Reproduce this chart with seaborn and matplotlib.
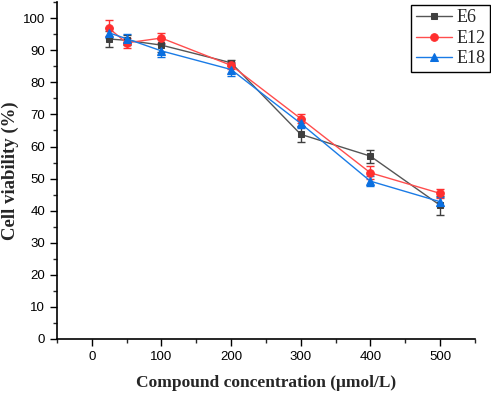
import matplotlib
matplotlib.use("Agg")
import matplotlib.pyplot as plt
import seaborn as sns
import pandas as pd
from matplotlib.ticker import MultipleLocator

conc = [25, 50, 100, 200, 300, 400, 500]
e6 = [93.5, 93.1, 91.6, 86.1, 63.8, 57.0, 41.7]
e6_err = [2.5, 1.5, 2.0, 1.0, 2.5, 2.0, 3.0]
e12 = [96.8, 92.3, 93.8, 85.3, 68.7, 51.8, 45.4]
e12_err = [2.5, 1.5, 1.5, 1.0, 1.5, 2.0, 1.5]
e18 = [95.4, 93.6, 89.8, 84.0, 67.2, 49.2, 42.8]
e18_err = [1.5, 1.5, 2.0, 2.0, 1.5, 1.5, 1.5]
series = ["E6", "E12", "E18"]

df = pd.concat([
    pd.DataFrame({"conc": conc, "val": v, "err": e, "group": g})
    for g, v, e in zip(series, [e6, e12, e18], [e6_err, e12_err, e18_err])
])

sns.set_style("ticks")
plt.rcParams["font.family"] = ["Liberation Sans", "DejaVu Sans"]

fig = plt.figure(figsize=(4.91, 3.94), dpi=100)
ax = fig.add_axes([0.116, 0.1396, 0.851, 0.855])

line_colors = {"E6": "#555555", "E12": "#FF4D4D", "E18": "#1A7BE6"}
mark_colors = {"E6": "#3F3F3F", "E12": "#FF2F2F", "E18": "#0A6FE0"}
markers = {"E6": "s", "E12": "o", "E18": "^"}
msizes = {"E6": 5.0, "E12": 5.5, "E18": 6.0}

for g in series:
    d = df[df.group == g]
    ax.errorbar(d.conc, d.val, yerr=d.err, fmt="none", ecolor=mark_colors[g],
                elinewidth=1.0, capsize=3, capthick=1.0, zorder=2)
    sns.lineplot(data=d, x="conc", y="val", ax=ax, color=line_colors[g],
                 marker=markers[g], markersize=msizes[g], markerfacecolor=mark_colors[g],
                 markeredgecolor=mark_colors[g], linewidth=1.0, label=g,
                 errorbar=None, zorder=3)

ax.set_xlim(-50, 550)
ax.set_ylim(0, 105)
ax.xaxis.set_major_locator(MultipleLocator(100))
ax.xaxis.set_minor_locator(MultipleLocator(50))
ax.yaxis.set_major_locator(MultipleLocator(10))
ax.yaxis.set_minor_locator(MultipleLocator(5))
ax.tick_params(which="major", length=5, width=1, labelsize=9.5, direction="out", colors="black")
ax.tick_params(which="minor", length=3, width=1, direction="out")
for s in ["top", "right"]:
    ax.spines[s].set_visible(False)
for s in ["left", "bottom"]:
    ax.spines[s].set_linewidth(1.2)
    ax.spines[s].set_color("black")

ax.set_xlabel("Compound concentration (μmol/L)", fontsize=12.5, fontweight="bold",
              family=["Liberation Serif", "DejaVu Serif"], labelpad=9)
ax.set_ylabel("Cell viability (%)", fontsize=13.5, fontweight="bold",
              family=["Liberation Serif", "DejaVu Serif"], labelpad=3)

leg = ax.legend(loc="upper right", bbox_to_anchor=(0.998, 0.988), bbox_transform=fig.transFigure,
                prop={"family": ["Liberation Serif", "DejaVu Serif"], "size": 13},
                frameon=True, fancybox=False, edgecolor="black", framealpha=1,
                handlelength=2.0, borderpad=0.25, labelspacing=0.2, handletextpad=0.25,
                borderaxespad=0)
leg.get_frame().set_linewidth(1.0)

fig.savefig("out.png", dpi=100)
